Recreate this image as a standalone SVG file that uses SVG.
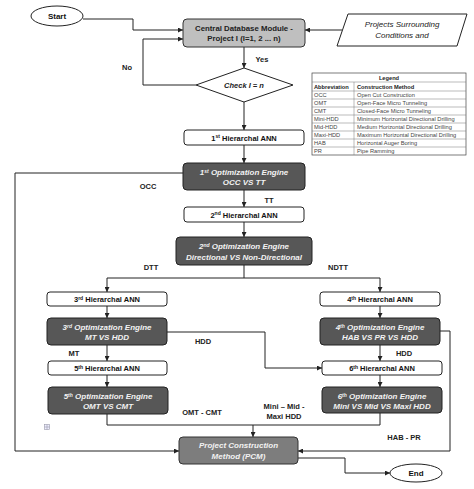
<svg xmlns="http://www.w3.org/2000/svg" width="474" height="489" viewBox="0 0 474 489">
<style>
text{font-family:"Liberation Sans",Arial,sans-serif;}
.lbl{font-size:7.5px;font-weight:bold;fill:#222;text-anchor:middle;}
.ann rect{fill:#fff;stroke:#222;stroke-width:1;}
.ann text{font-size:7.5px;font-weight:bold;fill:#111;text-anchor:middle;}
.opt rect{fill:#575757;stroke:#222;stroke-width:1;}
.opt text{font-size:8px;font-weight:bold;font-style:italic;fill:#f2f2f2;text-anchor:middle;}
.sup{font-size:5px;}
.ln{fill:none;stroke:#222;stroke-width:1;}
.lg text{font-size:5.7px;fill:#444;}
.lg .h{font-weight:bold;fill:#222;}
</style>
<defs>
<marker id="ar" viewBox="0 0 8 8" refX="8" refY="4" markerWidth="5" markerHeight="5" orient="auto" markerUnits="userSpaceOnUse">
<path d="M0,0 L8,4 L0,8 z" fill="#222"/>
</marker>
</defs>
<rect width="474" height="489" fill="#fff"/>

<g id="connectors" class="ln">
<path d="M83,19 H133 V30 H183" marker-end="url(#ar)"/>
<path d="M342,30 H305" marker-end="url(#ar)"/>
<path d="M196,85 H143 V39 H183" marker-end="url(#ar)"/>
<path d="M244,47 V68" marker-end="url(#ar)"/>
<path d="M244,102 V130" marker-end="url(#ar)"/>
<path d="M244,145 V163" marker-end="url(#ar)"/>
<path d="M244,190 V207" marker-end="url(#ar)"/>
<path d="M244,222 V237" marker-end="url(#ar)"/>
<path d="M244,265 V278"/>
<path d="M107,278 H380"/>
<path d="M107,278 V292" marker-end="url(#ar)"/>
<path d="M380,278 V292" marker-end="url(#ar)"/>
<path d="M107,306 V318" marker-end="url(#ar)"/>
<path d="M380,306 V318" marker-end="url(#ar)"/>
<path d="M107,345 V361" marker-end="url(#ar)"/>
<path d="M380,345 V361" marker-end="url(#ar)"/>
<path d="M107,375 V387" marker-end="url(#ar)"/>
<path d="M380,375 V387" marker-end="url(#ar)"/>
<path d="M167,332 H265 V368 H322" marker-end="url(#ar)"/>
<path d="M183,173 H15 V451 H179" marker-end="url(#ar)"/>
<path d="M440,331 H450 V451 H298" marker-end="url(#ar)"/>
<path d="M107,414 V425 H380 V413"/>
<path d="M253,425 V437" marker-end="url(#ar)"/>
<path d="M298,458 H345 V473 H390" marker-end="url(#ar)"/>
</g>

<g id="start">
<ellipse cx="57" cy="16" rx="26" ry="10" fill="#fff" stroke="#222" stroke-width="1"/>
<text x="57" y="19" font-size="8" font-weight="bold" text-anchor="middle" fill="#111">Start</text>
</g>

<g id="central">
<rect x="183" y="19" width="122" height="28" rx="4" fill="#bfbfbf" stroke="#333" stroke-width="1"/>
<text x="244" y="31" font-size="7.8" font-weight="bold" text-anchor="middle" fill="#222">Central Database Module -</text>
<text x="244" y="41" font-size="7.8" font-weight="bold" text-anchor="middle" fill="#222">Project I (I=1, 2 ... n)</text>
</g>

<g id="conditions">
<polygon points="348,14 467,14 457,46 337,46" fill="#fff" stroke="#222" stroke-width="1"/>
<text x="402" y="27" font-size="8" font-style="italic" text-anchor="middle" fill="#222">Projects Surrounding</text>
<text x="402" y="38" font-size="8" font-style="italic" text-anchor="middle" fill="#222">Conditions and</text>
</g>

<g id="check">
<polygon points="244,68 293,85 244,102 196,85" fill="#fff" stroke="#222" stroke-width="1"/>
<text x="244" y="88" font-size="7.5" font-weight="bold" font-style="italic" text-anchor="middle" fill="#222">Check I = n</text>
</g>

<g id="ann1" class="ann">
<rect x="184" y="130" width="120" height="15" rx="3"/>
<text x="244" y="140.5">1<tspan class="sup" dy="-2.5">st</tspan><tspan dy="2.5"> Hierarchal ANN</tspan></text>
</g>
<g id="opt1" class="opt">
<rect x="183" y="163" width="122" height="27" rx="4"/>
<text x="244" y="175">1<tspan class="sup" dy="-2.5">st</tspan><tspan dy="2.5"> Optimization Engine</tspan></text>
<text x="244" y="185">OCC VS TT</text>
</g>
<g id="ann2" class="ann">
<rect x="184" y="207" width="120" height="15" rx="3"/>
<text x="244" y="217.5">2<tspan class="sup" dy="-2.5">nd</tspan><tspan dy="2.5"> Hierarchal ANN</tspan></text>
</g>
<g id="opt2" class="opt">
<rect x="176" y="237" width="136" height="28" rx="4"/>
<text x="244" y="249">2<tspan class="sup" dy="-2.5">nd</tspan><tspan dy="2.5"> Optimization Engine</tspan></text>
<text x="244" y="259.5">Directional VS Non-Directional</text>
</g>
<g id="ann3" class="ann">
<rect x="47" y="292" width="120" height="14" rx="3"/>
<text x="107" y="302">3<tspan class="sup" dy="-2.5">rd</tspan><tspan dy="2.5"> Hierarchal ANN</tspan></text>
</g>
<g id="opt3" class="opt">
<rect x="47" y="318" width="120" height="27" rx="4"/>
<text x="107" y="330">3<tspan class="sup" dy="-2.5">rd</tspan><tspan dy="2.5"> Optimization Engine</tspan></text>
<text x="107" y="340">MT VS HDD</text>
</g>
<g id="ann5" class="ann">
<rect x="48" y="361" width="119" height="14" rx="3"/>
<text x="107" y="371">5<tspan class="sup" dy="-2.5">th</tspan><tspan dy="2.5"> Hierarchal ANN</tspan></text>
</g>
<g id="opt5" class="opt">
<rect x="48" y="387" width="120" height="27" rx="4"/>
<text x="108" y="399">5<tspan class="sup" dy="-2.5">th</tspan><tspan dy="2.5"> Optimization Engine</tspan></text>
<text x="108" y="409">OMT VS CMT</text>
</g>
<g id="ann4" class="ann">
<rect x="320" y="292" width="120" height="14" rx="3"/>
<text x="380" y="302">4<tspan class="sup" dy="-2.5">th</tspan><tspan dy="2.5"> Hierarchal ANN</tspan></text>
</g>
<g id="opt4" class="opt">
<rect x="320" y="318" width="120" height="27" rx="4"/>
<text x="380" y="330">4<tspan class="sup" dy="-2.5">th</tspan><tspan dy="2.5"> Optimization Engine</tspan></text>
<text x="380" y="340">HAB VS PR VS HDD</text>
</g>
<g id="ann6" class="ann">
<rect x="322" y="361" width="120" height="14" rx="3"/>
<text x="382" y="371">6<tspan class="sup" dy="-2.5">th</tspan><tspan dy="2.5"> Hierarchal ANN</tspan></text>
</g>
<g id="opt6" class="opt">
<rect x="322" y="387" width="120" height="26" rx="4"/>
<text x="382" y="399">6<tspan class="sup" dy="-2.5">th</tspan><tspan dy="2.5"> Optimization Engine</tspan></text>
<text x="382" y="409">Mini VS Mid VS Maxi HDD</text>
</g>
<g id="pcm">
<rect x="179" y="437" width="119" height="27" rx="4" fill="#7d7d7d" stroke="#333" stroke-width="1"/>
<text x="238.5" y="448" font-size="8" font-weight="bold" font-style="italic" text-anchor="middle" fill="#f2f2f2">Project Construction</text>
<text x="238.5" y="458.5" font-size="8" font-weight="bold" font-style="italic" text-anchor="middle" fill="#f2f2f2">Method (PCM)</text>
</g>
<g id="end">
<ellipse cx="416" cy="473" rx="26" ry="9" fill="#fff" stroke="#222" stroke-width="1"/>
<text x="416" y="476" font-size="8" font-weight="bold" text-anchor="middle" fill="#111">End</text>
</g>

<g id="labels">
<text class="lbl" x="127" y="70">No</text>
<text class="lbl" x="262" y="62">Yes</text>
<text class="lbl" x="148" y="189">OCC</text>
<text class="lbl" x="269" y="203">TT</text>
<text class="lbl" x="151" y="270">DTT</text>
<text class="lbl" x="338" y="270">NDTT</text>
<text class="lbl" x="203" y="344">HDD</text>
<text class="lbl" x="74" y="356">MT</text>
<text class="lbl" x="404" y="356">HDD</text>
<text class="lbl" x="202" y="415">OMT - CMT</text>
<text class="lbl" x="284" y="409">Mini – Mid -</text>
<text class="lbl" x="284" y="419">Maxi HDD</text>
<text class="lbl" x="404" y="440">HAB - PR</text>
</g>

<g id="icon">
<rect x="44.5" y="424.5" width="5" height="5" fill="#eef" stroke="#99a" stroke-width="0.6"/>
<path d="M47,424.5 V429.5 M44.5,427 H49.5" stroke="#99a" stroke-width="0.6"/>
</g>

<g id="legend" class="lg">
<rect x="312" y="73" width="154" height="82" fill="#fff" stroke="#444" stroke-width="0.7"/>
<g stroke="#777" stroke-width="0.5">
<path d="M312,82 H466 M312,91 H466 M312,99 H466 M312,107 H466 M312,115 H466 M312,123 H466 M312,131 H466 M312,139 H466 M312,147 H466"/>
<path d="M354,82 V155"/>
</g>
<text class="h" x="389" y="80" text-anchor="middle" font-size="6.2">Legend</text>
<text class="h" x="314" y="89" font-size="6">Abbreviation</text>
<text class="h" x="357" y="89" font-size="6">Construction Method</text>
<text x="314" y="97">OCC</text><text x="357" y="97">Open Cut Construction</text>
<text x="314" y="105">OMT</text><text x="357" y="105">Open-Face Micro Tunneling</text>
<text x="314" y="113">CMT</text><text x="357" y="113">Closed-Face Micro Tunneling</text>
<text x="314" y="121">Mini-HDD</text><text x="357" y="121">Minimum Horizontal Directional Drilling</text>
<text x="314" y="129">Mid-HDD</text><text x="357" y="129">Medium Horizontal Directional Drilling</text>
<text x="314" y="137">Maxi-HDD</text><text x="357" y="137">Maximum Horizontal Directional Drilling</text>
<text x="314" y="145">HAB</text><text x="357" y="145">Horizontal Auger Boring</text>
<text x="314" y="153">PR</text><text x="357" y="153">Pipe Ramming</text>
</g>
</svg>
